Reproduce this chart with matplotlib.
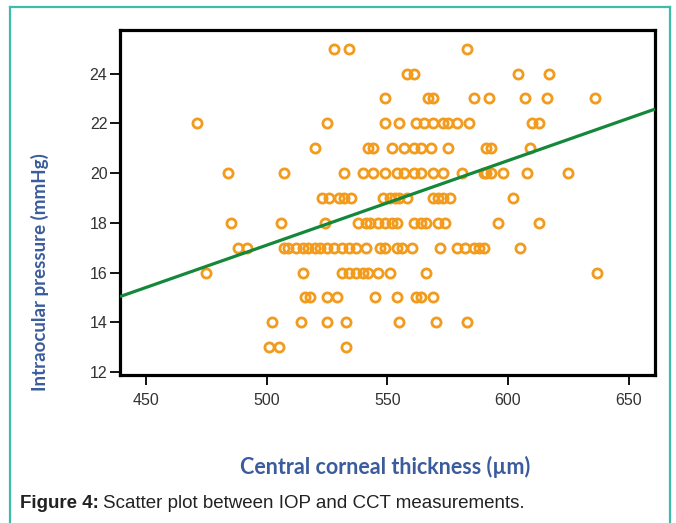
#!/usr/bin/env python3

import numpy as np
import matplotlib
import matplotlib.pyplot as plt
from matplotlib.lines import Line2D
matplotlib.use('Agg')

# Scatter of IOP vs CCT (one list per IOP level)

cct_iop25 = [528, 534, 583]
cct_iop24 = [558, 561, 604, 617]
cct_iop23 = [549, 567, 569, 586, 592, 607, 616, 636]
cct_iop22 = [471, 525, 549, 555, 562, 565, 569, 573, 575, 579, 584,
             610, 613]
cct_iop21 = [520, 542, 544, 552, 557, 561, 564, 568, 575, 591, 593, 609]
cct_iop20 = [484, 507, 532, 540, 544, 549, 554, 557, 561, 564, 569, 573,
             581, 590, 591, 593, 598, 608, 625]
cct_iop19 = [523, 526, 530, 532, 535, 548, 551, 553, 555, 558, 569, 571,
             573, 576, 602]
cct_iop18 = [485, 506, 524, 538, 541, 543, 546, 549, 552, 554, 561, 564,
             566, 571, 574, 596, 613]
cct_iop17 = [488, 492, 507, 509, 512, 515, 517, 520, 522, 525, 528, 531,
             534, 537, 541, 547, 549, 554, 556, 560, 572, 579, 582, 586,
             588, 590, 605]
cct_iop16 = [475, 515, 531, 534, 537, 540, 542, 546, 551, 566, 637]
cct_iop15 = [516, 518, 525, 529, 545, 554, 562, 564, 569]
cct_iop14 = [502, 514, 525, 533, 555, 570, 583]
cct_iop13 = [501, 505, 533]

iop_levels = [25, 24, 23, 22, 21, 20, 19, 18, 17, 16, 15, 14, 13]
cct_rows = [cct_iop25, cct_iop24, cct_iop23, cct_iop22, cct_iop21,
            cct_iop20, cct_iop19, cct_iop18, cct_iop17, cct_iop16,
            cct_iop15, cct_iop14, cct_iop13]

# fit line: iop = a + b * cct
fit_intercept = 0.1
fit_slope = 0.0340

x_ticks = [450, 500, 550, 600, 650]
y_ticks = [12, 14, 16, 18, 20, 22, 24]


def main():
    cct = np.concatenate([np.array(r, dtype=float) for r in cct_rows])
    iop = np.concatenate([np.full(len(r), lvl, dtype=float)
                          for r, lvl in zip(cct_rows, iop_levels)])

    W, H = 676, 523
    fig = plt.figure(figsize=(W / 100, H / 100), dpi=100)
    fig.patch.set_facecolor('white')

    ax = fig.add_axes([120 / W, 1 - 375 / H, 535 / W, 345 / H])
    ax.set_xlim(439.2, 660.9)
    ax.set_ylim(11.88, 25.75)

    xs = np.array([439.2, 660.9])
    ax.plot(xs, fit_intercept + fit_slope * xs, color='#14883a', lw=2.3,
            zorder=3, solid_capstyle='butt')
    ax.plot(cct, iop, linestyle='none', marker='o', ms=6.6, mew=2.0,
            mfc='none', mec='#f29b1c', zorder=2)

    for s in ax.spines.values():
        s.set_linewidth(2.3)
        s.set_color('black')
    ax.set_xticks(x_ticks)
    ax.set_yticks(y_ticks)
    ax.tick_params(direction='out', length=7, width=1.3, color='black',
                   labelsize=11.5, labelcolor='#333333')
    ax.tick_params(axis='x', pad=6)
    ax.tick_params(axis='y', pad=2)
    for lab in ax.get_xticklabels() + ax.get_yticklabels():
        lab.set_fontfamily('Liberation Sans')

    fig.text(40 / W, 1 - 272 / H, 'Intraocular pressure (mmHg)',
             rotation=90, ha='center', va='center', fontsize=13.5,
             fontweight='bold', color='#3b5c9c', family='Lato')
    fig.text(385 / W, 1 - 467 / H, 'Central corneal thickness (\u00b5m)',
             ha='center', va='center', fontsize=15.5, fontweight='bold',
             color='#3b5c9c', family='Lato')

    cap = fig.text(20 / W, 1 - 503 / H, 'Figure 4:', ha='left',
                   va='center', fontsize=13.5, fontweight='bold',
                   color='#222222', family='Liberation Sans')
    fig.canvas.draw()
    bb = cap.get_window_extent()
    fig.text(bb.x1 / W + 4 / W, 1 - 503 / H,
             'Scatter plot between IOP and CCT measurements.',
             ha='left', va='center', fontsize=13.5, color='#222222',
             family='Liberation Sans')

    # teal frame round the figure
    teal = '#3dbcaa'
    fig.add_artist(Line2D([10 / W, 10 / W], [0, 1 - 7 / H], color=teal,
                          lw=1.6, transform=fig.transFigure))
    fig.add_artist(Line2D([10 / W, 670 / W], [1 - 7 / H, 1 - 7 / H],
                          color=teal, lw=1.6, transform=fig.transFigure))
    fig.add_artist(Line2D([670 / W, 670 / W], [0, 1 - 7 / H], color=teal,
                          lw=1.6, transform=fig.transFigure))

    fig.savefig('out.png', dpi=100)


if __name__ == '__main__':
    main()
